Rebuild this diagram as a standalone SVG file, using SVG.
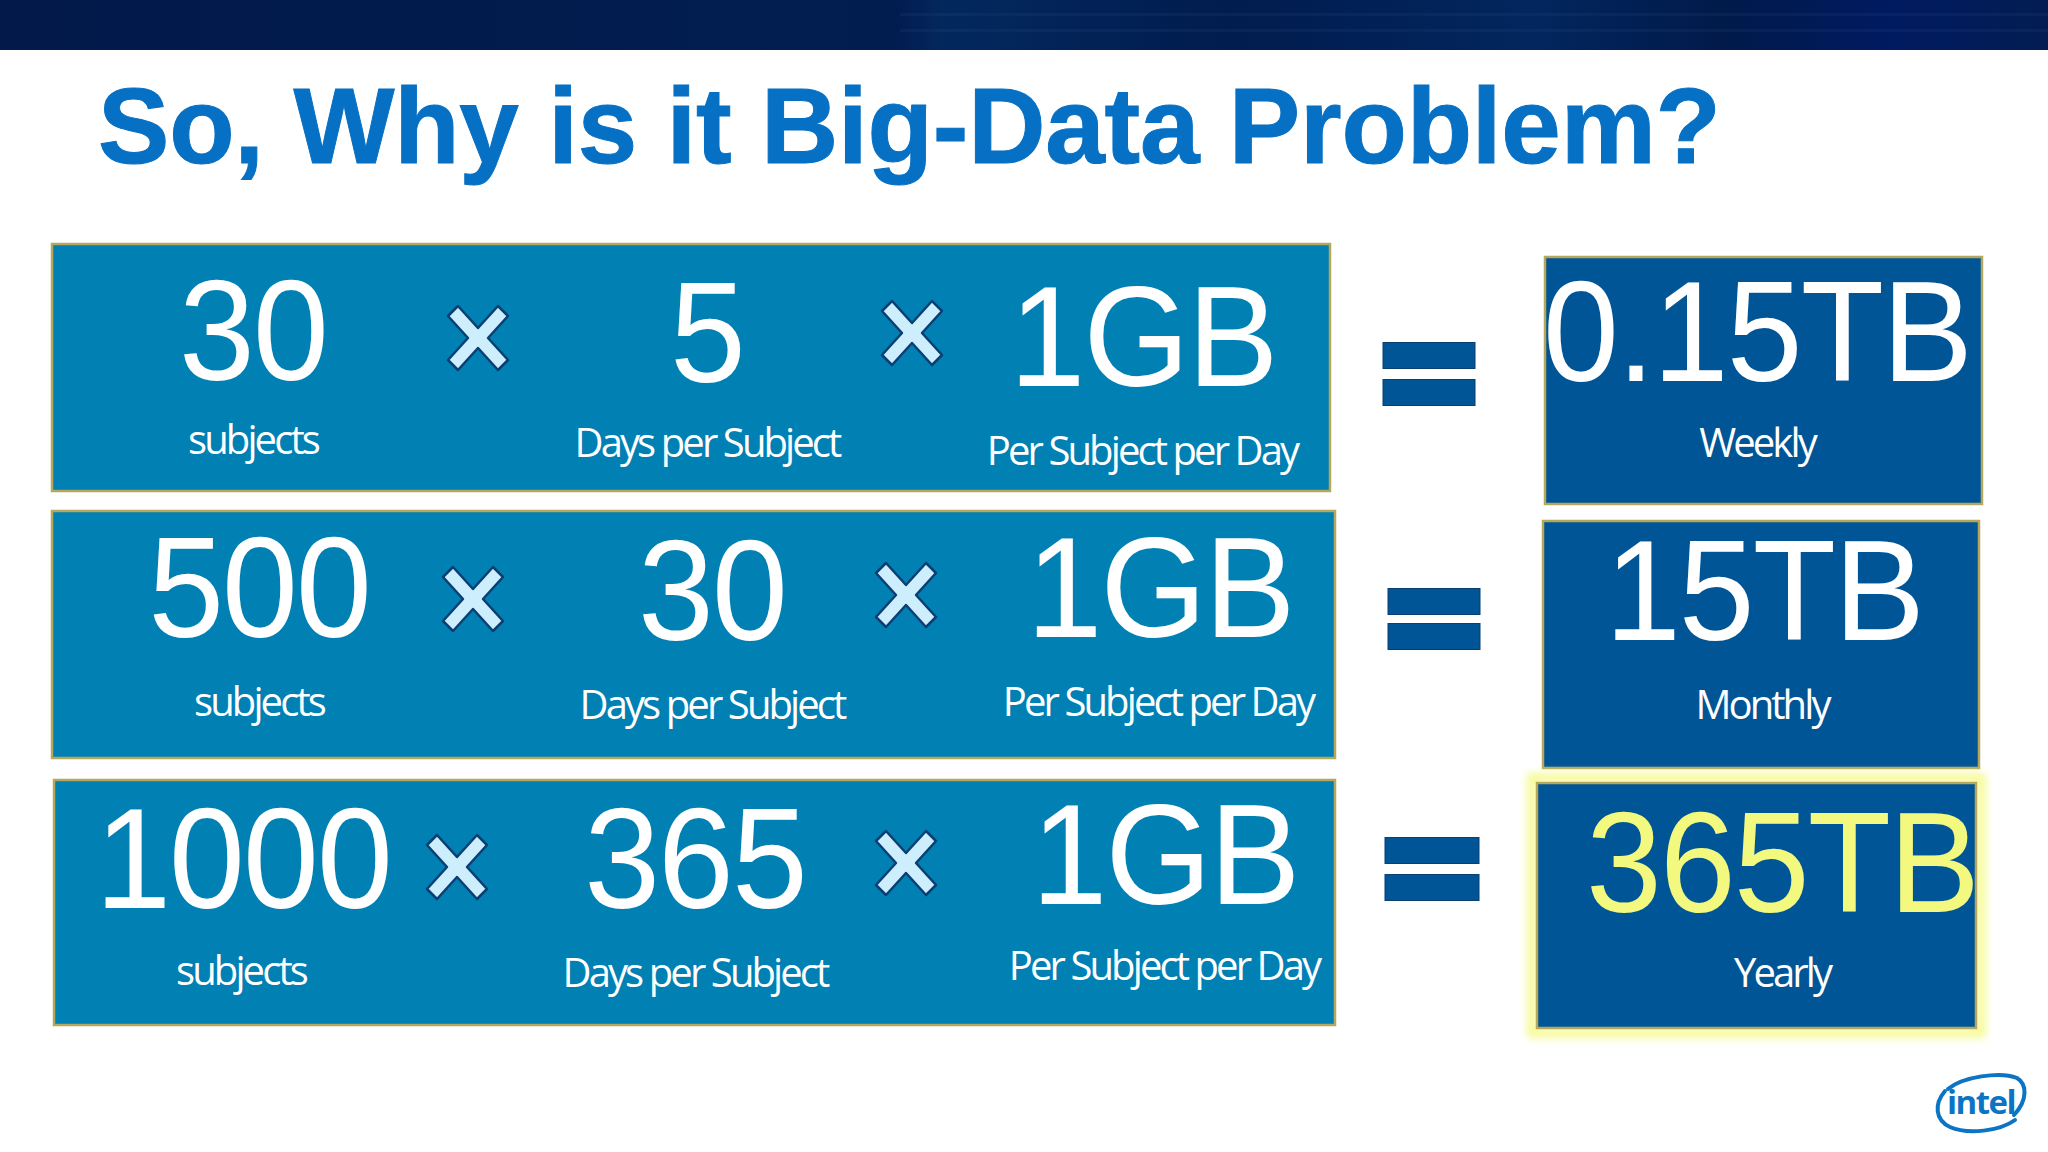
<svg xmlns="http://www.w3.org/2000/svg" width="2048" height="1152" viewBox="0 0 2048 1152">
<style>
.row{fill:#0080b3;stroke:#b5a75c;stroke-width:2.5}
.res{fill:#005596;stroke:#b5a75c;stroke-width:2.5}
.num{font-family:"Liberation Sans",Arial,sans-serif;font-size:142px;fill:#fff;text-anchor:middle;letter-spacing:-2px}
.cap{font-family:"Open Sans",sans-serif;font-size:40px;fill:#fff;text-anchor:middle;letter-spacing:-2.9px}
.eq{fill:#005596;stroke:#0b3f73;stroke-width:1}
.x{fill:#cdeefc;stroke:#0b3f73;stroke-width:2.5;stroke-linejoin:round}
.stripe{fill:#3a66a0;opacity:.12}
.ring{fill:none;stroke:#0b74c4;stroke-width:4;stroke-linecap:round}
</style>
<defs>
<linearGradient id="bar" x1="0" x2="1" y1="0" y2="0"><stop offset="0" stop-color="#02194a"/><stop offset=".44" stop-color="#011d50"/><stop offset=".46" stop-color="#03285e"/><stop offset=".6" stop-color="#011c4e"/><stop offset=".75" stop-color="#02265e"/><stop offset=".84" stop-color="#011a4a"/><stop offset=".92" stop-color="#001a60"/><stop offset="1" stop-color="#021d52"/></linearGradient>
<filter id="glow" x="-10%" y="-10%" width="120%" height="120%"><feGaussianBlur stdDeviation="4"/></filter>
<path id="mul" class="x" d="M-20-32 0-10 20-32 30-22 10 0 30 22 20 32 0 10-20 32-30 22-10 0-30-22Z"/>
</defs>
<rect width="2048" height="1152" fill="#fff"/>
<g id="topbar">
<rect width="2048" height="50" fill="url(#bar)"/>
<rect class="stripe" x="900" y="13" width="1148" height="3"/>
<rect class="stripe" x="900" y="29" width="1148" height="3"/>
</g>
<text id="title" x="98" y="163" font-family="Liberation Sans,Arial,sans-serif" font-size="107" font-weight="700" fill="#0670c4" stroke="#0670c4" stroke-width="1" letter-spacing="-.2">So, Why is it Big-Data Problem?</text>
<g id="row1">
<rect class="row" x="52" y="244" width="1278" height="247"/>
<text class="num" transform="translate(253 380) scale(.96 1)">30</text><text class="cap" x="253" y="454">subjects</text>
<text class="num" transform="translate(707 382) scale(.96 1)">5</text><text class="cap" x="707" y="457">Days per Subject</text>
<text class="num" transform="translate(1143 386) scale(.96 1)">1GB</text><text class="cap" x="1142" y="465">Per Subject per Day</text>
</g>
<g id="row2">
<rect class="row" x="52" y="511" width="1283" height="247"/>
<text class="num" transform="translate(259 637) scale(.96 1)">500</text><text class="cap" x="259" y="716">subjects</text>
<text class="num" transform="translate(712 640) scale(.96 1)">30</text><text class="cap" x="712" y="719">Days per Subject</text>
<text class="num" transform="translate(1160 637) scale(.96 1)">1GB</text><text class="cap" x="1158" y="716">Per Subject per Day</text>
</g>
<g id="row3">
<rect class="row" x="54" y="780" width="1281" height="245"/>
<text class="num" transform="translate(243 908) scale(.96 1)">1000</text><text class="cap" x="241" y="985">subjects</text>
<text class="num" transform="translate(695 908) scale(.96 1)">365</text><text class="cap" x="695" y="987">Days per Subject</text>
<text class="num" transform="translate(1165 904) scale(.96 1)">1GB</text><text class="cap" x="1164" y="980">Per Subject per Day</text>
</g>
<g id="operators">
<use href="#mul" x="478" y="338"/><use href="#mul" x="912" y="333"/>
<use href="#mul" x="473" y="599"/><use href="#mul" x="906" y="595"/>
<use href="#mul" x="457" y="867"/><use href="#mul" x="906" y="863"/>
<rect class="eq" x="1383" y="342.5" width="92" height="26"/><rect class="eq" x="1383" y="379.5" width="92" height="26"/>
<rect class="eq" x="1388" y="588.5" width="92" height="26"/><rect class="eq" x="1388" y="623.5" width="92" height="26"/>
<rect class="eq" x="1385" y="837.5" width="94" height="26"/><rect class="eq" x="1385" y="874.5" width="94" height="26"/>
</g>
<g id="weekly">
<rect class="res" x="1545" y="257" width="437" height="247"/>
<text class="num" transform="translate(1757 381) scale(.96 1)">0.15TB</text><text class="cap" x="1757" y="457">Weekly</text>
</g>
<g id="monthly">
<rect class="res" x="1543" y="521" width="436" height="247"/>
<text class="num" transform="translate(1764 640) scale(.96 1)">15TB</text><text class="cap" x="1762" y="719">Monthly</text>
</g>
<g id="yearly">
<rect x="1532" y="778" width="449" height="255" fill="none" stroke="#f6f98c" stroke-width="9" filter="url(#glow)"/>
<rect class="res" x="1537" y="783" width="439" height="245"/>
<text class="num" transform="translate(1782 912) scale(.96 1)" style="fill:#f3f97f">365TB</text><text class="cap" x="1782" y="987">Yearly</text>
</g>
<g id="logo">
<path class="ring" d="M1948 1089C1962 1077 2000 1071 2017 1078C2027 1084 2028 1100 2014 1115"/>
<path class="ring" d="M1945 1091C1934 1104 1935 1120 1950 1127C1968 1135 2000 1131 2015 1120"/>
<text x="1981" y="1114" font-family="Open Sans,sans-serif" font-size="33" font-weight="700" fill="#0b74c4" text-anchor="middle" letter-spacing="-1.5">intel</text>
</g>
</svg>
